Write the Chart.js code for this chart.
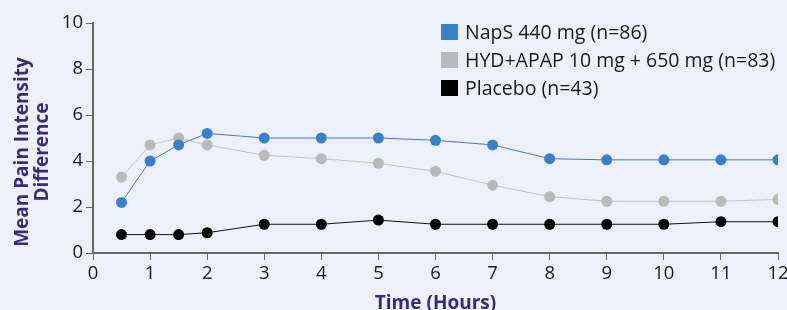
<!DOCTYPE html>
<html>
<head>
<meta charset="UTF-8">
<script src="https://cdn.jsdelivr.net/npm/chart.js"></script>
<style>
  html, body { margin: 0; padding: 0; background: #edf0f8; }
  .wrap { width: 787px; height: 310px; }
</style>
</head>
<body>
<div class="wrap"><canvas id="c" width="787" height="310"></canvas></div>
<script>
// data
const hours = [0.5, 1, 1.5, 2, 3, 4, 5, 6, 7, 8, 9, 10, 11, 12];
const naps = [2.2, 4.0, 4.7, 5.2, 5.0, 5.0, 5.0, 4.9, 4.7, 4.1, 4.05, 4.05, 4.05, 4.05];
const hydApap = [3.3, 4.7, 5.0, 4.7, 4.25, 4.1, 3.9, 3.55, 2.95, 2.45, 2.25, 2.25, 2.25, 2.33];
const placebo = [0.8, 0.8, 0.8, 0.88, 1.25, 1.25, 1.43, 1.25, 1.25, 1.25, 1.25, 1.25, 1.36, 1.36];
const seriesNames = ['NapS 440 mg (n=86)', 'HYD+APAP 10 mg + 650 mg (n=83)', 'Placebo (n=43)'];
const yTitle = ['Mean Pain Intensity', 'Difference'];

const FONT = '"Open Sans"';
const titleColor = '#3a2a78';

function pts(ys) { return hours.map((h, i) => ({ x: h, y: ys[i] })); }

// square legend top right + the two-line y title (sits a bit lower than chart.js would put it)
const extras = {
  id: 'extras',
  afterDraw(chart) {
    const ctx = chart.ctx;
    ctx.save();
    ctx.font = '19.5px ' + FONT;
    ctx.textBaseline = 'middle';
    chart.data.datasets.forEach((ds, i) => {
      const y = 32 + i * 28;
      ctx.fillStyle = ds.pointBackgroundColor;
      ctx.fillRect(441, y - 8, 17, 16);
      ctx.fillStyle = '#1a1a1a';
      ctx.fillText(ds.label, 465, y + 1);
    });
    ctx.restore();

    ctx.save();
    ctx.translate(0, 152);
    ctx.rotate(-Math.PI / 2);
    ctx.font = 'bold 19px ' + FONT;
    ctx.fillStyle = titleColor;
    ctx.textAlign = 'center';
    ctx.textBaseline = 'middle';
    yTitle.forEach((t, i) => ctx.fillText(t, 0, 23 + i * 20));
    ctx.restore();
  }
};

new Chart(document.getElementById('c'), {
  type: 'line',
  data: {
    datasets: [
      { label: seriesNames[0], data: pts(naps), borderColor: '#4a76c2', pointBackgroundColor: '#3b80c6' },
      { label: seriesNames[1], data: pts(hydApap), borderColor: '#c0c0c0', pointBackgroundColor: '#b9b9b9' },
      { label: seriesNames[2], data: pts(placebo), borderColor: '#111111', pointBackgroundColor: '#000000' }
    ].map(d => Object.assign(d, { borderWidth: 1, pointRadius: 5.5, pointBorderWidth: 0, tension: 0 }))
  },
  options: {
    responsive: false,
    animation: false,
    layout: { padding: { top: 23, right: 9, left: 0, bottom: -5 } },
    plugins: { legend: { display: false }, tooltip: { enabled: false } },
    scales: {
      x: {
        type: 'linear', min: 0, max: 12,
        afterFit: s => { s.height = 62; s.paddingRight = 9; s.paddingLeft = 0; },
        ticks: { stepSize: 1, color: '#1a1a1a', font: { family: FONT, size: 18.5 }, padding: 3 },
        grid: { drawOnChartArea: false, tickLength: 7, color: '#666' },
        border: { color: '#666', width: 2 },
        title: { display: true, text: 'Time (Hours)', color: titleColor, font: { family: FONT, size: 19, weight: 'bold' }, padding: { top: 0, bottom: 0 } }
      },
      y: {
        min: 0, max: 10,
        afterFit: s => { s.width = 93; },
        ticks: { stepSize: 2, color: '#1a1a1a', font: { family: FONT, size: 18.5 }, padding: 3 },
        grid: { drawOnChartArea: false, tickLength: 7, color: '#666' },
        border: { color: '#666', width: 2 }
      }
    }
  },
  plugins: [extras]
});
</script>
</body>
</html>
